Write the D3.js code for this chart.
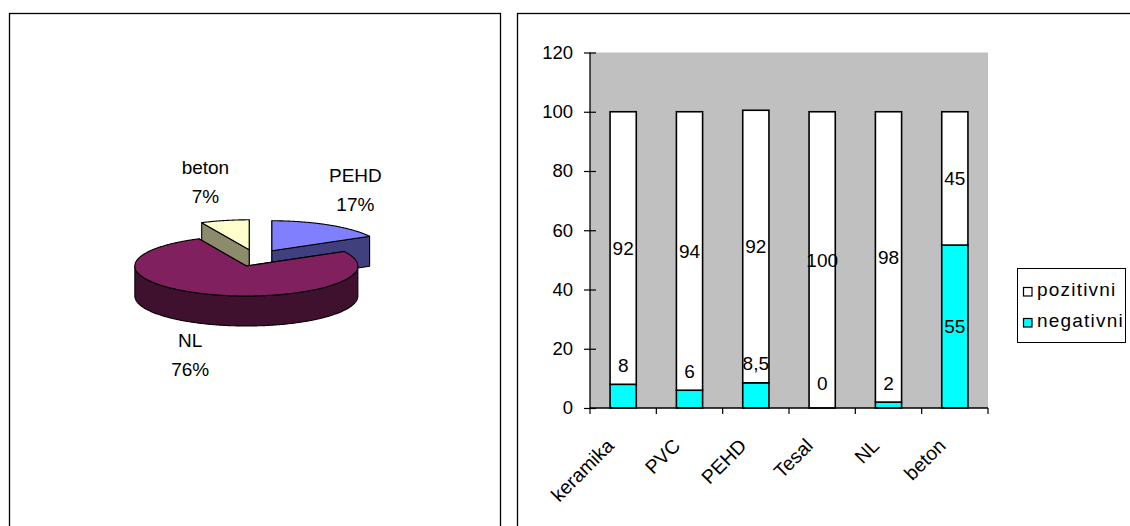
<!DOCTYPE html>
<html><head><meta charset="utf-8">
<script src="https://cdn.jsdelivr.net/npm/d3@7"></script>
<style>
html,body{margin:0;padding:0;background:#fff;}
svg{display:block;font-family:"Liberation Sans",Arial,sans-serif;}
</style></head><body>
<svg id="chart" width="1130" height="526"></svg>
<script>
// ---- data ----
const pieLabels = ["PEHD", "NL", "beton"];
const pieValues = [17, 76, 7];
const pieTopColors = ["#8080FF", "#80205F", "#FFFFCC"];
const pieSideColors = ["#40407F", "#40102F", "#8C8C6C"];

const categories = ["keramika", "PVC", "PEHD", "Tesal", "NL", "beton"];
const negativni = [8, 6, 8.5, 0, 2, 55];
const pozitivni = [92, 94, 92, 100, 98, 45];
const yTicks = [0, 20, 40, 60, 80, 100, 120];
const seriesNames = ["pozitivni", "negativni"];
const seriesColors = ["#FFFFFF", "#00FFFF"];

const svg = d3.select("#chart");
const FONT = '"Liberation Sans", Arial, sans-serif';

// ---- panels ----
svg.append("rect").attr("x", 9.5).attr("y", 13.5).attr("width", 491).attr("height", 540)
  .attr("fill", "none").attr("stroke", "#000").attr("stroke-width", 1.3);
svg.append("rect").attr("x", 517.5).attr("y", 13.5).attr("width", 640).attr("height", 540)
  .attr("fill", "none").attr("stroke", "#000").attr("stroke-width", 1.3);

// ---- 3D pie ----
const pc = {x: 256, y: 258}, rx = 111.5, ry = 30, depth = 30, explode = 0.28;
const total = d3.sum(pieValues);
const arcs = d3.pie().sort(null).value(d => d)(pieValues);
const pt = (cx, cy, a, h) => [cx + rx * Math.sin(a), cy - ry * Math.cos(a) + h];
const slices = arcs.map((a, i) => {
  const mid = (a.startAngle + a.endAngle) / 2;
  return {start: a.startAngle, end: a.endAngle, value: a.value, i, mid,
    cx: pc.x + explode * rx * Math.sin(mid), cy: pc.y - explode * ry * Math.cos(mid)};
});
const drawOrder = slices.slice().sort((a, b) => a.cy - b.cy);
const lineGen = d3.line();
function arcPts(s, a0, a1, h) {
  const n = Math.max(2, Math.ceil(Math.abs(a1 - a0) / 0.01));
  return d3.range(n + 1).map(k => pt(s.cx, s.cy, a0 + (a1 - a0) * k / n, h));
}
const pieG = svg.append("g");
function poly(pts, fill) {
  pieG.append("path").attr("d", lineGen(pts) + "Z").attr("fill", fill)
    .attr("stroke", "#000").attr("stroke-width", 1.1).attr("stroke-linejoin", "round");
}
function cutFace(s, a) {
  const p0 = [s.cx, s.cy], p1 = pt(s.cx, s.cy, a, 0), p2 = pt(s.cx, s.cy, a, depth), p3 = [s.cx, s.cy + depth];
  return [p0, p1, p2, p3];
}
drawOrder.forEach(s => {
  const side = pieSideColors[s.i], top = pieTopColors[s.i];
  const startFront = Math.sin(s.start) < -1e-6;
  const endFront = Math.sin(s.end) > 1e-6;
  if (!startFront) poly(cutFace(s, s.start), side);
  if (!endFront) poly(cutFace(s, s.end), side);
  const a0 = Math.max(s.start, Math.PI / 2), a1 = Math.min(s.end, 3 * Math.PI / 2);
  if (a1 > a0) {
    const upper = arcPts(s, a0, a1, 0);
    const lower = arcPts(s, a1, a0, depth);
    poly(upper.concat(lower), side);
  }
  if (startFront) poly(cutFace(s, s.start), side);
  if (endFront) poly(cutFace(s, s.end), side);
  poly([[s.cx, s.cy]].concat(arcPts(s, s.start, s.end, 0)), top);
});
// pie labels
const pctFmt = d3.format(".0%");
slices.forEach(s => {
  const sn = Math.sin(s.mid), cs = Math.cos(s.mid);
  const rim = pt(s.cx, s.cy, s.mid, cs < 0 ? depth : 0);
  const lx = rim[0] + 14 * Math.sign(sn) + 25 * sn;
  const ly = rim[1] - 36 * cs + 3;
  const t = svg.append("text").attr("text-anchor", "middle").attr("font-size", 19)
    .attr("font-family", FONT).attr("fill", "#000");
  t.append("tspan").attr("x", lx).attr("y", ly - 14.5).text(pieLabels[s.i]);
  t.append("tspan").attr("x", lx).attr("y", ly + 14.5).text(pctFmt(s.value / total));
});

// ---- stacked bar chart ----
const plot = {left: 590, right: 988, top: 52.5, bottom: 408};
const x = d3.scaleBand().domain(categories).range([plot.left, plot.right]).padding(0);
const y = d3.scaleLinear().domain([0, 120]).range([plot.bottom, plot.top]);
svg.append("rect").attr("x", plot.left).attr("y", plot.top)
  .attr("width", plot.right - plot.left).attr("height", plot.bottom - plot.top).attr("fill", "#C0C0C0");

const rows = categories.map((c, i) => ({cat: c, negativni: negativni[i], pozitivni: pozitivni[i]}));
const stack = d3.stack().keys(["negativni", "pozitivni"])(rows);
const barW = x.bandwidth() * 0.395;
const fmtNum = v => String(v).replace(".", ",");

stack.forEach(layer => {
  const color = seriesColors[seriesNames.indexOf(layer.key)];
  const g = svg.append("g");
  g.selectAll("rect").data(layer.filter(d => d[1] - d[0] > 0)).join("rect")
    .attr("x", d => x(d.data.cat) + x.bandwidth() / 2 - barW / 2)
    .attr("y", d => y(d[1]))
    .attr("width", barW)
    .attr("height", d => y(d[0]) - y(d[1]))
    .attr("fill", color).attr("stroke", "#000").attr("stroke-width", 1.6);
});

// y axis
const yAxis = svg.append("g").attr("transform", `translate(${plot.left},0)`)
  .call(d3.axisLeft(y).tickValues(yTicks).tickSize(6).tickSizeOuter(0).tickPadding(11));
yAxis.select(".domain").remove();
yAxis.selectAll(".tick line").attr("x1", 6).attr("x2", -6).attr("stroke", "#000").attr("stroke-width", 1.2);
yAxis.selectAll("text").attr("font-size", 18.5).attr("font-family", FONT).attr("fill", "#000");
svg.append("line").attr("x1", plot.left).attr("x2", plot.left).attr("y1", plot.top).attr("y2", plot.bottom)
  .attr("stroke", "#000").attr("stroke-width", 1.3);

// x axis
svg.append("line").attr("x1", plot.left).attr("x2", plot.right).attr("y1", plot.bottom).attr("y2", plot.bottom)
  .attr("stroke", "#000").attr("stroke-width", 1.3);
const bounds = categories.map(c => x(c)).concat([x(categories[categories.length - 1]) + x.bandwidth()]);
svg.append("g").selectAll("line").data(bounds).join("line")
  .attr("x1", d => d).attr("x2", d => d).attr("y1", plot.bottom).attr("y2", plot.bottom + 6)
  .attr("stroke", "#000").attr("stroke-width", 1.2);
const xAxis = svg.append("g").attr("transform", `translate(0,${plot.bottom})`)
  .call(d3.axisBottom(x).tickSize(0).tickSizeOuter(0));
xAxis.select(".domain").remove();
xAxis.selectAll("text").attr("font-size", 19.5).attr("font-family", FONT).attr("fill", "#000")
  .attr("text-anchor", "end").attr("x", 0).attr("y", 0).attr("dy", 0)
  .attr("transform", "translate(-8,39) rotate(-45)");

// data labels
const labG = svg.append("g").attr("font-size", 19).attr("font-family", FONT).attr("text-anchor", "middle").attr("fill", "#000");
stack.forEach(layer => {
  layer.forEach(d => {
    const v = d[1] - d[0];
    let cy = y((d[0] + d[1]) / 2);
    if (layer.key === "negativni" && v < 15) cy = Math.min(y(d[1]) - 19, plot.bottom - 25);
    labG.append("text").attr("x", x(d.data.cat) + x.bandwidth() / 2).attr("y", cy).attr("dy", "0.35em")
      .text(fmtNum(v));
  });
});

// legend
const leg = svg.append("g");
leg.append("rect").attr("x", 1017.5).attr("y", 268.5).attr("width", 108).attr("height", 74)
  .attr("fill", "#fff").attr("stroke", "#000").attr("stroke-width", 1);
seriesNames.forEach((n, i) => {
  const yy = 287.5 + i * 31;
  leg.append("rect").attr("x", 1023.5).attr("y", yy).attr("width", 8.5).attr("height", 8.5)
    .attr("fill", seriesColors[i]).attr("stroke", "#000").attr("stroke-width", 1.2);
  leg.append("text").attr("x", 1037).attr("y", yy + 8.5).attr("font-size", 19).attr("font-family", FONT)
    .attr("letter-spacing", "1.2px").attr("fill", "#000").text(n);
});
</script>
</body></html>
